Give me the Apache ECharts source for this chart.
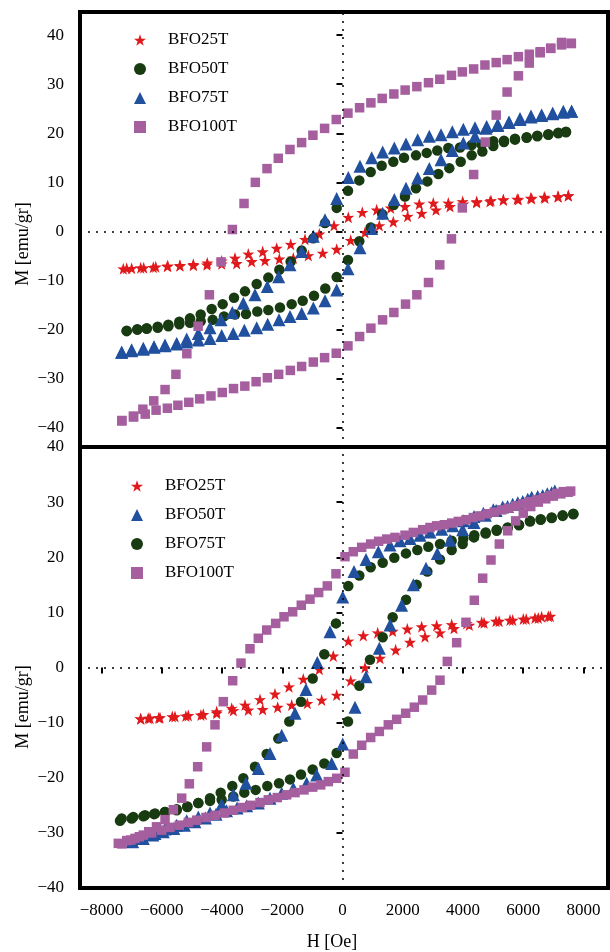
<!DOCTYPE html>
<html>
<head>
<meta charset="utf-8">
<title>BFO hysteresis loops</title>
<script src="https://cdn.jsdelivr.net/npm/echarts@6/dist/echarts.min.js"></script>
<style>
  html, body { margin: 0; padding: 0; background: #fff; }
  #chart-container { width: 610px; height: 952px; }
</style>
</head>
<body>
<div id="chart-container"></div>
<script>
// tick labels
const hTicks = [-8000, -6000, -4000, -2000, 0, 2000, 4000, 6000, 8000];
const mTicks = [-40, -30, -20, -10, 0, 10, 20, 30, 40];
const sampleNames = ['BFO25T', 'BFO50T', 'BFO75T', 'BFO100T'];

// ---- upper panel, [H (Oe), M (emu/gr)] ----
// descending branch (+H -> -H) and ascending branch (-H -> +H)
const top25Down = [[7497,7.3],[7165,7.1],[6723,6.8],[6281,6.7],[5838,6.5],[5340,6.5],[4930,6.3],[4455,6.1],[3990,6.1],[3513,5.8],[3015,5.8],[2550,5.6],[2075,5.1],[1600,4.8],[1135,4.4],[657,3.9],[193,2.9],[-282,1.2],[-770,-0.5],[-1245,-1.6],[-1720,-2.6],[-2185,-3.4],[-2650,-4.1],[-3127,-4.6],[-3569,-5.4],[-4011,-6.0],[-4488,-6.4],[-4953,-6.7],[-5395,-6.9],[-5817,-7.1],[-6281,-7.3],[-6700,-7.4],[-7165,-7.5]];
const top25Up = [[-7277,-7.6],[-7000,-7.5],[-6600,-7.4],[-6200,-7.2],[-5800,-7.0],[-5400,-7.0],[-4950,-6.9],[-4500,-6.8],[-4011,-6.6],[-3513,-6.5],[-3015,-6.1],[-2574,-5.9],[-2097,-5.6],[-1632,-5.4],[-1135,-4.9],[-657,-4.4],[-193,-3.6],[272,-1.8],[747,-0.2],[1222,1.2],[1687,2.0],[2163,3.1],[2629,3.7],[3104,4.4],[3569,5.1],[4011,5.6],[4455,5.9],[4897,6.1],[5340,6.4],[5800,6.6],[6250,6.8],[6700,7.0],[7150,7.1],[7497,7.3]];

const top50Down = [[7420,20.2],[7165,20.1],[6833,19.7],[6468,19.4],[6115,19.2],[5727,18.9],[5362,18.5],[5007,18.4],[4621,17.7],[4289,17.6],[3901,17.1],[3513,17.0],[3148,16.5],[2795,16.0],[2440,15.5],[2042,15.0],[1687,14.2],[1301,13.4],[936,12.1],[558,10.4],[183,8.3],[-193,4.8],[-581,1.7],[-969,-1.4],[-1355,-3.9],[-1720,-6.1],[-2097,-7.8],[-2463,-9.4],[-2849,-10.7],[-3237,-12.2],[-3602,-13.5],[-3978,-14.8],[-4343,-15.8],[-4708,-16.9],[-5063,-17.7],[-5418,-18.4],[-5783,-19.0],[-6135,-19.4],[-6500,-19.7],[-6812,-19.9],[-7165,-20.3]];
const top50Up = [[-7165,-20.2],[-6812,-20.0],[-6500,-19.8],[-6135,-19.6],[-5783,-19.3],[-5418,-18.9],[-5063,-18.6],[-4708,-18.3],[-4310,-18.0],[-3934,-17.3],[-3569,-16.9],[-3204,-16.8],[-2829,-16.3],[-2463,-16.0],[-2075,-15.5],[-1687,-14.8],[-1321,-14.1],[-946,-13.1],[-571,-11.6],[-193,-9.3],[183,-5.8],[558,-2.0],[936,0.8],[1320,3.5],[1700,5.4],[2075,7.1],[2440,8.8],[2817,10.2],[3182,11.7],[3547,12.9],[3924,14.2],[4289,15.5],[4643,16.3],[5007,17.4],[5362,18.2],[5727,18.7],[6115,19.1],[6468,19.5],[6833,19.8],[7165,20.0],[7420,20.3]];

const top75Down = [[7608,24.5],[7331,24.5],[6978,24.1],[6612,23.7],[6258,23.5],[5893,23.0],[5528,22.3],[5152,21.8],[4787,21.4],[4399,21.1],[4011,20.8],[3646,20.3],[3270,19.7],[2882,19.4],[2497,18.7],[2108,17.8],[1720,17.0],[1335,16.2],[969,15.0],[581,13.3],[193,11.0],[-193,6.7],[-581,2.4],[-969,-1.0],[-1355,-4.1],[-1743,-6.8],[-2119,-9.2],[-2497,-11.2],[-2905,-12.9],[-3293,-14.6],[-3659,-16.5],[-4034,-18.0],[-4399,-19.6],[-4787,-20.8],[-5173,-21.9],[-5505,-22.8],[-5893,-23.1],[-6258,-23.5],[-6613,-23.8],[-7000,-24.1],[-7331,-24.6]];
const top75Up = [[-7331,-24.6],[-7000,-24.3],[-6613,-24.0],[-6258,-23.6],[-5893,-23.3],[-5505,-22.9],[-5173,-22.5],[-4787,-22.1],[-4399,-21.8],[-4011,-21.2],[-3626,-20.8],[-3260,-20.1],[-2849,-19.6],[-2483,-18.9],[-2108,-18.0],[-1743,-17.3],[-1355,-16.7],[-969,-15.6],[-581,-14.1],[-193,-11.9],[183,-7.6],[581,-3.3],[969,0.6],[1335,3.7],[1720,6.5],[2108,8.8],[2497,10.9],[2882,12.8],[3270,14.6],[3646,16.5],[4011,18.0],[4399,19.4],[4764,21.0],[5152,21.6],[5528,22.2],[5893,22.8],[6258,23.3],[6612,23.6],[6978,24.0],[7331,24.3],[7608,24.5]];

const top100Down = [[7597,38.3],[7274,38.5],[6912,37.3],[6563,36.6],[6202,36.1],[5840,35.6],[5465,35.0],[5103,34.4],[4729,33.9],[4354,33.1],[3979,32.5],[3618,31.8],[3230,31.0],[2855,30.3],[2468,29.5],[2080,28.8],[1705,28.0],[1318,27.1],[943,26.2],[568,25.2],[181,24.1],[-207,22.8],[-594,21.0],[-982,19.6],[-1357,18.1],[-1744,16.7],[-2132,14.9],[-2506,12.8],[-2894,10.0],[-3269,5.7],[-3656,0.4],[-4031,-6.2],[-4419,-12.9],[-4793,-19.3],[-5168,-24.9],[-5530,-29.1],[-5891,-32.2],[-6266,-34.5],[-6628,-36.2],[-6938,-37.6],[-7326,-38.6]];
const top100Up = [[-7326,-38.5],[-6938,-37.8],[-6550,-37.2],[-6189,-36.4],[-5814,-36.0],[-5465,-35.4],[-5103,-34.8],[-4742,-34.1],[-4367,-33.5],[-3992,-32.8],[-3618,-32.0],[-3243,-31.5],[-2868,-30.6],[-2494,-29.8],[-2119,-29.1],[-1731,-28.3],[-1357,-27.5],[-969,-26.6],[-594,-25.7],[-207,-24.8],[181,-23.3],[568,-21.4],[943,-19.7],[1331,-18.0],[1705,-16.5],[2093,-14.8],[2468,-12.9],[2855,-10.4],[3230,-6.8],[3618,-1.5],[3979,4.8],[4354,11.6],[4742,18.2],[5103,23.7],[5465,28.4],[5840,31.7],[6202,34.3],[6563,36.4],[6912,37.3],[7274,38.0],[7597,38.3]];

// ---- lower panel ----
const bot25Down = [[6833,9.3],[6612,9.2],[6391,9.0],[6003,8.8],[5561,8.6],[5096,8.4],[4621,8.2],[4123,8.0],[3625,7.8],[3127,7.6],[2629,7.4],[2152,7.0],[1666,6.6],[1168,6.3],[691,5.8],[193,4.8],[-305,2.1],[-770,-0.3],[-1301,-2.1],[-1776,-3.5],[-2241,-4.8],[-2739,-5.8],[-3237,-6.8],[-3679,-7.4],[-4177,-8.0],[-4621,-8.5],[-5119,-8.7],[-5561,-8.9],[-6059,-9.1],[-6391,-9.2],[-6700,-9.3]];
const bot25Up = [[-6700,-9.3],[-6450,-9.2],[-6100,-9.1],[-5650,-8.9],[-5200,-8.8],[-4700,-8.6],[-4177,-8.3],[-3625,-7.8],[-3127,-7.7],[-2650,-7.6],[-2152,-7.2],[-1687,-6.8],[-1168,-6.5],[-691,-5.9],[-193,-5.0],[272,-2.4],[747,0.0],[1245,1.7],[1765,3.2],[2241,4.6],[2739,5.6],[3237,6.3],[3702,7.1],[4210,7.7],[4700,8.1],[5200,8.4],[5650,8.6],[6100,8.8],[6500,9.0],[6900,9.3]];

const bot50Down = [[6944,31.7],[6646,31.2],[6281,30.9],[5983,30.1],[5650,29.6],[5318,29.1],[5007,28.6],[4676,28.0],[4366,27.4],[4011,26.6],[3658,25.7],[3293,25.1],[2905,24.6],[2573,24.0],[2241,23.4],[1909,23.0],[1577,22.2],[1189,21.0],[780,19.6],[382,17.4],[6,12.8],[-415,6.5],[-836,0.9],[-1212,-4.0],[-1577,-8.3],[-2019,-12.3],[-2407,-15.6],[-2795,-18.3],[-3204,-21.0],[-3625,-23.1],[-4011,-24.9],[-4399,-26.4],[-4787,-27.1],[-5173,-27.8],[-5505,-28.6],[-5893,-29.3],[-6225,-30.1],[-6613,-31.0],[-6977,-31.5]];
const bot50Up = [[-6977,-31.6],[-6654,-31.0],[-6300,-30.4],[-5950,-29.8],[-5600,-29.2],[-5250,-28.6],[-4900,-28.0],[-4550,-27.3],[-4200,-26.6],[-3850,-26.0],[-3500,-25.5],[-3182,-25.1],[-2795,-24.6],[-2407,-23.7],[-2019,-22.8],[-1632,-21.9],[-1190,-21.0],[-857,-19.5],[-359,-17.4],[6,-13.9],[415,-7.2],[780,-1.7],[1223,3.5],[1577,7.7],[1964,11.3],[2352,15.0],[2772,18.0],[3148,20.7],[3569,23.1],[3990,25.0],[4366,26.3],[4742,27.6],[5100,28.5],[5480,29.2],[5820,29.9],[6150,30.5],[6480,31.0],[6800,31.5],[7050,32.0]];

const bot75Down = [[7664,27.9],[7310,27.6],[6945,27.2],[6580,26.9],[6225,26.6],[5860,25.9],[5484,25.4],[5119,25.0],[4754,24.5],[4376,24.0],[4011,23.4],[3625,23.0],[3237,22.4],[2849,21.9],[2485,21.3],[2108,20.7],[1720,19.9],[1335,19.0],[936,18.2],[558,16.7],[193,14.8],[-216,8.0],[-604,2.4],[-990,-2.0],[-1378,-6.2],[-1766,-9.8],[-2131,-12.9],[-2517,-15.7],[-2905,-18.0],[-3293,-20.1],[-3659,-21.5],[-4044,-22.7],[-4399,-23.7],[-4787,-24.6],[-5152,-25.3],[-5505,-25.9],[-5893,-26.2],[-6225,-26.5],[-6557,-26.8],[-6945,-27.1],[-7331,-27.4]];
const bot75Up = [[-7387,-27.8],[-6998,-27.4],[-6612,-27.0],[-6258,-26.6],[-5893,-26.2],[-5505,-25.7],[-5152,-25.2],[-4787,-24.6],[-4399,-24.2],[-4011,-24.0],[-3625,-23.4],[-3260,-22.7],[-2882,-22.2],[-2496,-21.5],[-2108,-21.0],[-1743,-20.3],[-1378,-19.4],[-990,-18.5],[-604,-17.4],[-193,-15.5],[183,-9.8],[558,-3.3],[913,1.4],[1335,5.5],[1666,9.1],[2108,12.3],[2463,15.0],[2817,17.4],[3237,19.6],[3625,21.3],[3990,22.4],[4366,23.6],[4754,24.3],[5119,24.8],[5484,25.3],[5860,25.8],[6225,26.5],[6580,26.8],[6945,27.1],[7310,27.5],[7664,27.8]];

const bot100Down = [[7576,32.0],[7331,31.9],[7111,31.6],[6889,31.2],[6667,30.8],[6447,30.4],[6202,30.1],[5983,29.7],[5750,29.3],[5505,28.9],[5285,28.6],[5040,28.2],[4808,27.9],[4565,27.5],[4343,27.2],[4100,26.8],[3845,26.5],[3625,26.2],[3380,25.9],[3127,25.7],[2905,25.4],[2663,25.0],[2352,24.5],[2075,24.0],[1743,23.6],[1470,23.3],[1200,22.9],[936,22.4],[637,21.8],[359,21.0],[83,20.1],[-216,17.0],[-504,14.8],[-791,13.6],[-1079,12.4],[-1368,11.3],[-1654,10.1],[-1942,9.2],[-2219,8.0],[-2516,6.8],[-2795,5.3],[-3071,3.4],[-3370,0.8],[-3646,-2.4],[-3957,-6.2],[-4233,-10.4],[-4510,-14.4],[-4809,-18.0],[-5085,-21.1],[-5339,-23.7],[-5616,-25.8],[-5892,-27.6],[-6176,-28.9],[-6434,-29.8],[-6744,-30.7],[-7028,-31.3],[-7326,-32.0]];
const bot100Up = [[-7443,-31.9],[-7165,-31.4],[-6889,-31.0],[-6612,-30.4],[-6335,-30.0],[-6003,-29.5],[-5727,-29.0],[-5418,-28.6],[-5119,-28.1],[-4841,-27.7],[-4532,-27.2],[-4233,-26.8],[-3924,-26.4],[-3625,-25.9],[-3326,-25.4],[-3048,-25.0],[-2739,-24.5],[-2463,-24.0],[-2164,-23.6],[-1853,-23.1],[-1577,-22.7],[-1278,-22.2],[-990,-21.7],[-724,-21.3],[-471,-20.7],[-193,-20.1],[83,-19.0],[359,-15.7],[637,-14.1],[936,-12.7],[1223,-11.6],[1521,-10.4],[1799,-9.4],[2097,-8.3],[2385,-7.2],[2662,-5.9],[2961,-4.1],[3237,-2.3],[3480,1.1],[3790,4.5],[4100,8.2],[4376,12.2],[4654,16.2],[4930,19.5],[5207,22.4],[5484,24.8],[5750,26.6],[6003,28.0],[6250,29.2],[6500,30.0],[6750,30.6],[7000,31.1],[7250,31.5],[7500,31.8]];

const FONT = 'Liberation Serif';
const RED = '#e01a1c', GREEN = '#193b11', BLUE = '#21509f', PURPLE = '#a55f9f';
const STAR = 'path://M50,0 L61.8,35.1 L97.6,34.5 L69.1,56.9 L79.4,90.5 L50,70 L20.6,90.5 L30.9,56.9 L2.4,34.5 L38.2,35.1 Z';

const minusFmt = v => (v < 0 ? '\u2212' + Math.abs(v) : String(v));

function scatter(name, down, up, symbol, size, color, idx) {
    return {
        name: name,
        type: 'scatter',
        xAxisIndex: idx,
        yAxisIndex: idx,
        symbol: symbol,
        symbolSize: size,
        itemStyle: { color: color, opacity: 1 },
        data: down.concat(up)
    };
}

// zero lines (dotted) for one panel
function zeroLines(idx) {
    return {
        type: 'scatter', xAxisIndex: idx, yAxisIndex: idx, data: [], silent: true,
        markLine: {
            silent: true, symbol: 'none', animation: false,
            label: { show: false },
            lineStyle: { color: '#000', type: [2, 6], width: 1.5 },
            data: [{ yAxis: 0 }, { xAxis: 0 }]
        }
    };
}

var myChart = echarts.init(document.getElementById('chart-container'), null, { renderer: 'canvas' });

const yAxisBase = (idx, min, max) => ({
    type: 'value', gridIndex: idx, min: min, max: max,
    splitLine: { show: false },
    axisLine: { show: false },
    axisTick: { show: true, customValues: mTicks, length: 6, lineStyle: { color: '#000', width: 2 } },
    axisLabel: { customValues: mTicks, margin: 16, color: '#000', fontFamily: FONT, fontSize: 17, formatter: minusFmt }
});

const legendText = { fontFamily: FONT, fontSize: 17, color: '#000', lineHeight: 20, padding: [0, 0, 0, 17] };

var option = {
    animation: false,
    backgroundColor: '#fff',
    grid: [
        { left: 80, top: 12, width: 528, height: 435, show: true, borderColor: '#000', borderWidth: 4, backgroundColor: 'transparent' },
        { left: 80, top: 447, width: 528, height: 441, show: true, borderColor: '#000', borderWidth: 4, backgroundColor: 'transparent' }
    ],
    xAxis: [
        { type: 'value', gridIndex: 0, min: -8715, max: 8815, show: false, splitLine: { show: false } },
        {
            type: 'value', gridIndex: 1, min: -8715, max: 8815,
            splitLine: { show: false },
            axisLine: { show: false },
            axisTick: { show: true, customValues: hTicks, length: 6, lineStyle: { color: '#000', width: 2 } },
            axisLabel: { customValues: hTicks, margin: 14, color: '#000', fontFamily: FONT, fontSize: 17, formatter: minusFmt }
        }
    ],
    yAxis: [yAxisBase(0, -43.9, 44.7), yAxisBase(1, -40, 40)],
    legend: [
        {
            data: sampleNames,
            orient: 'vertical', left: 129, top: 25,
            itemWidth: 12, itemHeight: 12, itemGap: 9,
            selectedMode: false,
            textStyle: legendText
        },
        {
            // bottom panel order: 25T star, 50T triangle, 75T circle, 100T square
            data: sampleNames.map(n => n + ' '),
            orient: 'vertical', left: 126, top: 471,
            itemWidth: 12, itemHeight: 12, itemGap: 9,
            selectedMode: false,
            formatter: n => n.trim(),
            textStyle: legendText
        }
    ],
    graphic: [
        { type: 'text', x: 23, y: 244, rotation: Math.PI / 2, style: { text: 'M [emu/gr]', font: '18px "Liberation Serif"', fill: '#000', align: 'center', verticalAlign: 'middle' } },
        { type: 'text', x: 23, y: 707, rotation: Math.PI / 2, style: { text: 'M [emu/gr]', font: '18px "Liberation Serif"', fill: '#000', align: 'center', verticalAlign: 'middle' } },
        { type: 'text', x: 332, y: 942, style: { text: 'H [Oe]', font: '18px "Liberation Serif"', fill: '#000', align: 'center', verticalAlign: 'middle' } }
    ],
    series: [
        zeroLines(0),
        zeroLines(1),
        scatter('BFO25T', top25Down, top25Up, STAR, 12, RED, 0),
        scatter('BFO50T', top50Down, top50Up, 'circle', 10.5, GREEN, 0),
        scatter('BFO75T', top75Down, top75Up, 'triangle', 13, BLUE, 0),
        scatter('BFO100T', top100Down, top100Up, 'rect', 9.5, PURPLE, 0),
        scatter('BFO25T ', bot25Down, bot25Up, STAR, 12, RED, 1),
        scatter('BFO75T ', bot75Down, bot75Up, 'circle', 10.5, GREEN, 1),
        scatter('BFO50T ', bot50Down, bot50Up, 'triangle', 13, BLUE, 1),
        scatter('BFO100T ', bot100Down, bot100Up, 'rect', 9.5, PURPLE, 1)
    ]
};

myChart.setOption(option);
</script>
</body>
</html>
